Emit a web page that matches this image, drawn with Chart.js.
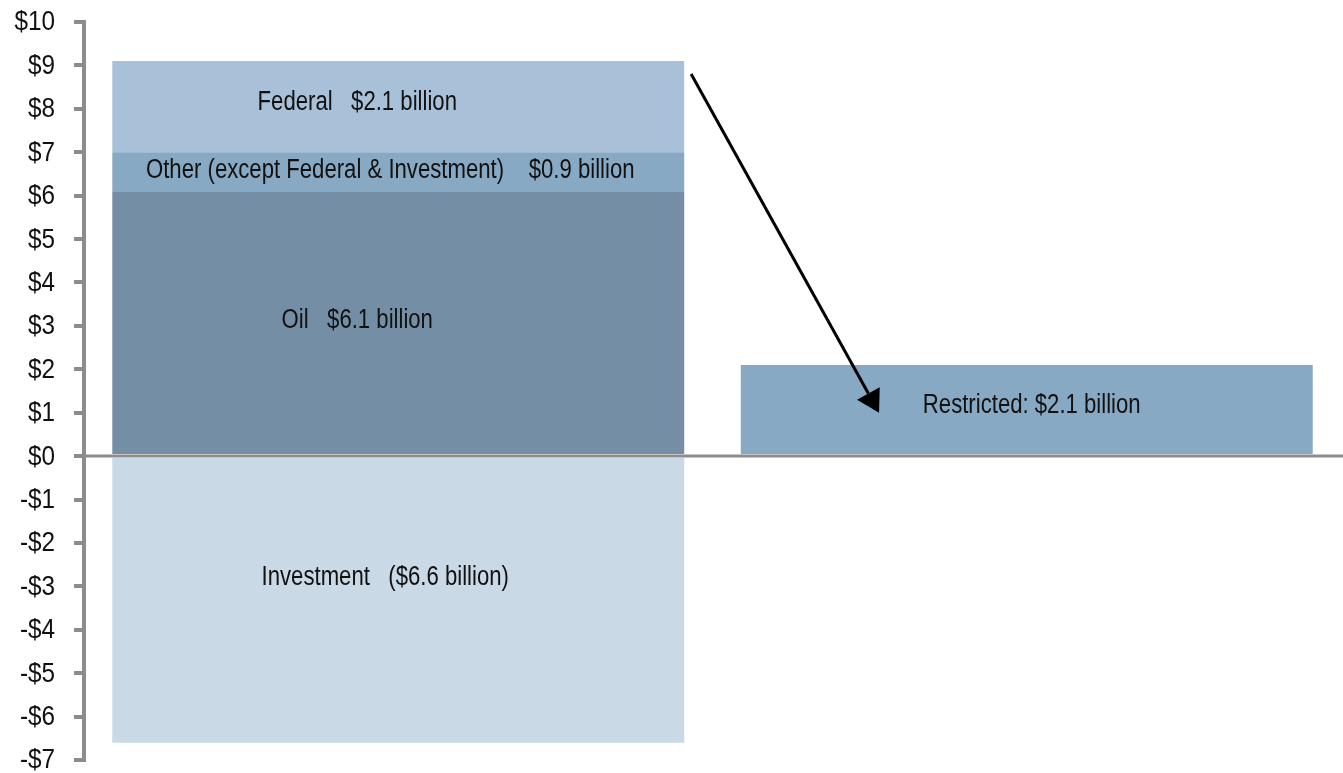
<!DOCTYPE html>
<html>
<head>
<meta charset="utf-8">
<script src="https://cdn.jsdelivr.net/npm/chart.js@4.4.1/dist/chart.umd.min.js"></script>
<style>
  html, body { margin: 0; padding: 0; background: #fff; }
  #wrap { width: 1343px; height: 773px; }
</style>
</head>
<body>
<div id="wrap"><canvas id="fundChart"></canvas></div>
<script>
// bars
const categories = ['Sources', 'Restricted'];
const oil = [6.1, null];
const other = [0.9, null];
const federal = [2.1, null];
const investment = [-6.6, null];
const restricted = [null, 2.1];

// text written inside each bar
const oilLabel = 'Oil   $6.1 billion';
const otherLabel = 'Other (except Federal & Investment)    $0.9 billion';
const federalLabel = 'Federal   $2.1 billion';
const investmentLabel = 'Investment   ($6.6 billion)';
const restrictedLabel = 'Restricted: $2.1 billion';

// y axis range, in $ billions
const yMin = -7;
const yMax = 10;
const yStep = 1;

// arrow from the top of the first bar down into the restricted bar
const arrowFrom = { x: 0.466, y: 8.8 };
const arrowTo = { x: 0.765, y: 1.0 };

const FONT = '"Liberation Sans", Arial, sans-serif';
const AXIS_GREY = '#8c8c8c';

// Liberation Sans squeezed sideways stands in for a narrow face
function narrowText(ctx, text, x, y, sx, align) {
    ctx.save();
    ctx.translate(x, y);
    ctx.scale(sx, 1);
    ctx.textAlign = align;
    ctx.fillText(text, 0, 0);
    ctx.restore();
}

const barLabels = {
    id: 'barLabels',
    afterDatasetsDraw(chart) {
        const ctx = chart.ctx;
        ctx.save();
        ctx.font = '27px ' + FONT;
        ctx.fillStyle = '#111';
        ctx.textBaseline = 'middle';
        chart.data.datasets.forEach((ds, i) => {
            const meta = chart.getDatasetMeta(i);
            meta.data.forEach((bar, j) => {
                if (ds.data[j] == null) return;
                const off = ds.labelOffset || { x: 0, y: 0 };
                const cy = (bar.y + bar.base) / 2;
                narrowText(ctx, ds.text, bar.x + off.x, cy + off.y, 0.82, 'center');
            });
        });
        ctx.restore();
    }
};

const yLabels = {
    id: 'yLabels',
    afterDraw(chart) {
        const ys = chart.scales.y;
        const ctx = chart.ctx;
        ctx.save();
        ctx.font = '27px ' + FONT;
        ctx.fillStyle = '#111';
        ctx.textBaseline = 'middle';
        ys.ticks.forEach(t => {
            const v = t.value;
            const txt = v < 0 ? '-$' + Math.abs(v) : '$' + v;
            narrowText(ctx, txt, ys.right - 29, ys.getPixelForValue(v) + 1, 0.9, 'right');
        });
        ctx.restore();
    }
};

const zeroLine = {
    id: 'zeroLine',
    afterDatasetsDraw(chart) {
        const ctx = chart.ctx;
        const y = chart.scales.y.getPixelForValue(0);
        ctx.save();
        ctx.strokeStyle = AXIS_GREY;
        ctx.lineWidth = 3;
        ctx.beginPath();
        ctx.moveTo(chart.chartArea.left, y);
        ctx.lineTo(chart.width, y);
        ctx.stroke();
        ctx.restore();
    }
};

const arrow = {
    id: 'arrow',
    afterDraw(chart) {
        const xs = chart.scales.x, ys = chart.scales.y;
        const x1 = xs.getPixelForValue(arrowFrom.x), y1 = ys.getPixelForValue(arrowFrom.y);
        const x2 = xs.getPixelForValue(arrowTo.x), y2 = ys.getPixelForValue(arrowTo.y);
        const ang = Math.atan2(y2 - y1, x2 - x1);
        const headLen = 22, headHalf = 13;
        const bx = x2 - headLen * Math.cos(ang), by = y2 - headLen * Math.sin(ang);
        const ctx = chart.ctx;
        ctx.save();
        ctx.strokeStyle = '#000';
        ctx.fillStyle = '#000';
        ctx.lineWidth = 3;
        ctx.beginPath();
        ctx.moveTo(x1, y1);
        ctx.lineTo(bx, by);
        ctx.stroke();
        ctx.beginPath();
        ctx.moveTo(x2, y2);
        ctx.lineTo(bx + headHalf * Math.sin(ang), by - headHalf * Math.cos(ang));
        ctx.lineTo(bx - headHalf * Math.sin(ang), by + headHalf * Math.cos(ang));
        ctx.closePath();
        ctx.fill();
        ctx.restore();
    }
};

new Chart(document.getElementById('fundChart'), {
    type: 'bar',
    data: {
        labels: categories,
        datasets: [
            { data: oil, text: oilLabel, backgroundColor: '#748ea5', labelOffset: { x: -41, y: -2 } },
            { data: other, text: otherLabel, backgroundColor: '#88a9c3', labelOffset: { x: -8, y: -1 } },
            { data: federal, text: federalLabel, backgroundColor: '#a9c1d8', labelOffset: { x: -41, y: -4 } },
            { data: investment, text: investmentLabel, backgroundColor: '#c9d9e6', labelOffset: { x: -13, y: -23 } },
            { data: restricted, text: restrictedLabel, backgroundColor: '#88a9c3', labelOffset: { x: 5, y: -4 } }
        ]
    },
    options: {
        responsive: true,
        maintainAspectRatio: false,
        animation: false,
        layout: { padding: { top: 22, bottom: 13, left: 0, right: 2 } },
        plugins: {
            legend: { display: false },
            tooltip: { enabled: false }
        },
        datasets: {
            bar: { categoryPercentage: 1, barPercentage: 0.91, borderWidth: 0 }
        },
        scales: {
            x: {
                stacked: true,
                display: false
            },
            y: {
                stacked: true,
                min: yMin,
                max: yMax,
                afterFit(scale) {
                    scale.width = 84;
                    scale.paddingTop = 0;
                    scale.paddingBottom = 0;
                },
                border: { display: true, color: AXIS_GREY, width: 4 },
                grid: {
                    drawOnChartArea: false,
                    drawTicks: true,
                    tickLength: 10,
                    color: AXIS_GREY,
                    lineWidth: 4
                },
                ticks: {
                    stepSize: yStep,
                    display: false
                }
            }
        }
    },
    plugins: [barLabels, zeroLine, arrow, yLabels]
});
</script>
</body>
</html>
